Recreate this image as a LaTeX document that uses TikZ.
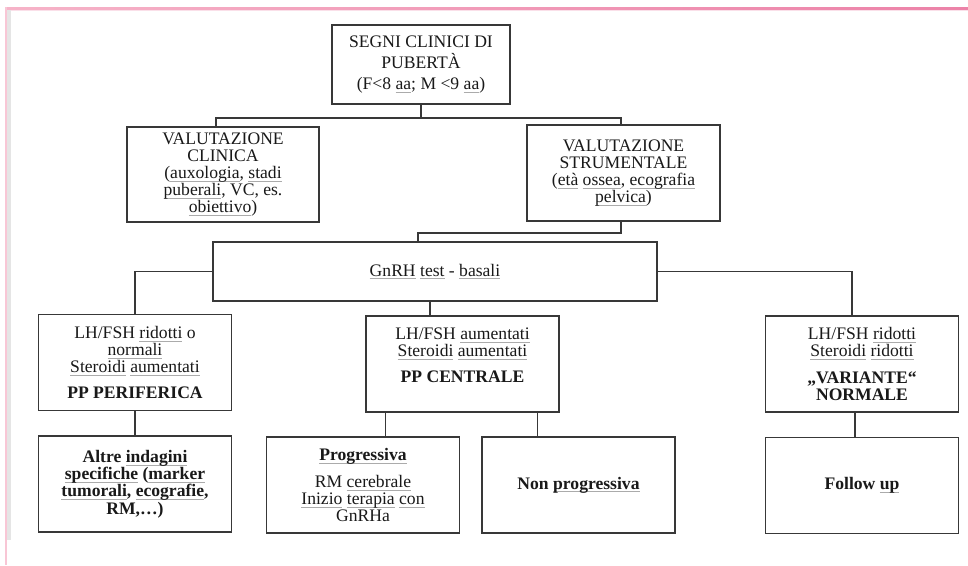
\documentclass[tikz,border=0pt]{standalone}
\usepackage{fontspec}
\setmainfont{Liberation Serif}
\usetikzlibrary{positioning}
\definecolor{pinkL}{HTML}{F6B3C8}
\definecolor{pinkR}{HTML}{EC82A8}
\definecolor{pinkside}{HTML}{F8C6D5}
\definecolor{squig}{HTML}{ABABAB}
% grey spell-check underline
\newsavebox{\sqbox}
\newcommand{\sq}[1]{\sbox{\sqbox}{#1}\rlap{\textcolor{squig}{\rule[-3.2pt]{\wd\sqbox}{0.9pt}}}\usebox{\sqbox}}

\begin{document}
\begin{tikzpicture}[x=1pt,y=-1pt,node distance=24pt and 20pt,
box/.style={draw=black!78,line width=1.5pt,align=center,inner sep=2pt,font=\fontsize{17.6}{17.2}\selectfont,text=black!90,minimum width=193pt,minimum height=96pt},
boldbox/.style={box,font=\fontsize{17.6}{17.2}\selectfont\bfseries},
link/.style={draw=black!78,line width=1.4pt}]
\useasboundingbox (0,0) rectangle (968,565);
% frame of the slide
\fill[white] (0,0) rectangle (968,565);
\shade[left color=pinkL,right color=pinkR] (5,7) rectangle (968,9.6);
\fill[pinkR!25] (9,9.6) rectangle (968,10.6);
\fill[pinkside] (5,7) rectangle (7.2,565);
\fill[black!10] (7.2,9.6) rectangle (10.5,540);

\node[box,font=\fontsize{17.6}{20.8}\selectfont,minimum width=178pt,minimum height=79pt] (segni) at (421,64.5) {SEGNI CLINICI DI\\PUBERTÀ\\(F<8 \sq{aa}; M <9 \sq{aa})};
\node[box,minimum width=192pt,minimum height=95pt] (clin) at (223,174.5) {VALUTAZIONE\\CLINICA\\(\sq{auxologia}, \sq{stadi}\\\sq{puberali}, VC, es.\\\sq{obiettivo})};
\node[box] (strum) at (623.5,173) {VALUTAZIONE\\STRUMENTALE\\(\sq{età} \sq{ossea}, \sq{ecografia}\\\sq{pelvica})};
\node[box,minimum width=444pt,minimum height=59pt] (gnrh) at (435,271.5) {\sq{GnRH} \sq{test} - \sq{basali}};

\node[box] (peri) at (135,362.5) {LH/FSH \sq{ridotti} o\\\sq{normali}\\\sq{Steroidi} \sq{aumentati}\\[9pt]\textbf{PP PERIFERICA}};
\node[box] (centr) at (462.5,364) {LH/FSH \sq{aumentati}\\\sq{Steroidi} \sq{aumentati}\\[9pt]\textbf{PP CENTRALE}\\\mbox{}};
\node[box] (var) at (862,364) {LH/FSH \sq{ridotti}\\\sq{Steroidi} \sq{ridotti}\\[9pt]\textbf{„VARIANTE“}\\\textbf{NORMALE}};

\node[boldbox,below=of peri] (altre) {Altre \sq{indagini}\\\sq{specifiche} (\sq{marker}\\\sq{tumorali}, \sq{ecografie},\\RM,…)};
\node[box] (prog) at (363,485) {\textbf{\sq{Progressiva}}\\[10pt]RM \sq{cerebrale}\\\sq{Inizio} \sq{terapia} \sq{con}\\GnRHa};
\node[boldbox] (nonprog) at (578.5,485) {Non \sq{progressiva}};
\node[boldbox,below=of var] (follow) {Follow \sq{up}};

% connectors
\coordinate (bus) at (0,118);
\coordinate (bus2) at (0,233);
\draw[link] (segni.south) -- (segni.south |- bus);
\draw[link] ([xshift=-7pt]clin.north) |- (segni.south |- bus) -| ([xshift=-2.5pt]strum.north);
\draw[link] ([xshift=-2.5pt]strum.south) |- ([xshift=-17pt]gnrh.north |- bus2) -- ([xshift=-17pt]gnrh.north);
\draw[link] (gnrh.west) -| (peri.north);
\draw[link] (gnrh.east) -| ([xshift=-10pt]var.north);
\draw[link] ([xshift=-5pt]gnrh.south) -- ([xshift=-5pt]gnrh.south |- centr.north);
\draw[link] (peri.south) -- (peri.south |- altre.north);
\draw[link] ([xshift=-77pt]centr.south) -- ([xshift=-77pt]centr.south |- prog.north);
\draw[link] ([xshift=75pt]centr.south) -- ([xshift=75pt]centr.south |- nonprog.north);
\draw[link] ([xshift=-7pt]var.south) -- ([xshift=-7pt]var.south |- follow.north);
\end{tikzpicture}
\end{document}
